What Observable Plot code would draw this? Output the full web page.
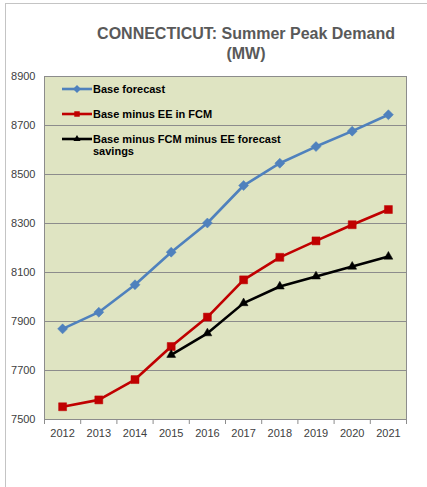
<!DOCTYPE html>
<html>
<head>
<meta charset="utf-8">
<script src="https://cdn.jsdelivr.net/npm/d3@7"></script>
<script src="https://cdn.jsdelivr.net/npm/@observablehq/plot@0.6"></script>
<style>
  html, body { margin: 0; padding: 0; background: #fff; }
  #chart { position: relative; width: 427px; height: 487px; overflow: hidden; font-family: "Liberation Sans", Arial, sans-serif; }
  #frame { position: absolute; left: 5px; top: 3px; width: 700px; height: 700px; border: 1.5px solid #c4c4c4; box-sizing: border-box; }
  #title { position: absolute; left: 65px; width: 362px; top: 24px; text-align: center; font-weight: bold; font-size: 16px; line-height: 20px; color: #595959; }
  #plotwrap { position: absolute; left: 0; top: 60px; }
  .leg { position: absolute; left: 62px; display: flex; align-items: flex-start; }
  .leg span { font-weight: bold; font-size: 11px; line-height: 12px; color: #000; width: 195px; margin-left: 1px; }
</style>
</head>
<body>
<div id="chart">
  <div id="frame"></div>
  <div id="title">CONNECTICUT: Summer Peak Demand<br>(MW)</div>
  <div id="plotwrap"></div>
</div>
<script>
const years = [2012, 2013, 2014, 2015, 2016, 2017, 2018, 2019, 2020, 2021];
const baseForecast = [7870, 7938, 8050, 8183, 8302, 8455, 8546, 8614, 8677, 8744];
const baseMinusEE = [7552, 7580, 7663, 7798, 7918, 8070, 8162, 8229, 8295, 8357];
const baseMinusFCM = [null, null, null, 7764, 7852, 7975, 8043, 8084, 8124, 8165];
const seriesNames = ["Base forecast", "Base minus EE in FCM", "Base minus FCM minus EE forecast savings"];
const seriesColors = ["#4f81bd", "#c00000", "#000000"];
const seriesSymbols = ["diamond2", "square", "triangle"];
const symbolRadius = [4.5, 4.5, 3.3];
const yTicks = [7500, 7700, 7900, 8100, 8300, 8500, 8700, 8900];
const xBoundaries = [2011.5, 2012.5, 2013.5, 2014.5, 2015.5, 2016.5, 2017.5, 2018.5, 2019.5, 2020.5, 2021.5];

const allValues = [baseForecast, baseMinusEE, baseMinusFCM];
const series = allValues.map((vals, i) =>
  years.map((year, j) => ({year, value: vals[j], name: seriesNames[i]})).filter(d => d.value != null)
);

const marks = [
  Plot.frame({fill: "#dfe4c2", stroke: "none"}),
  Plot.gridY(yTicks, {stroke: "#8c8c8c", strokeOpacity: 1, strokeWidth: 1}),
  Plot.frame({stroke: "#8c8c8c", strokeWidth: 1, fill: "none"}),
  Plot.axisY(yTicks, {tickSize: 0, tickPadding: 9, tickFormat: d => String(d), label: null, fontSize: 11, fill: "#404040"}),
  Plot.axisX(xBoundaries, {tickSize: 5, tickFormat: () => "", label: null, stroke: "#8c8c8c"}),
  Plot.axisX(years, {tickSize: 0, tickPadding: 10, tickFormat: d => String(d), label: null, fontSize: 11, fill: "#404040"})
];
series.forEach((data, i) => {
  marks.push(Plot.line(data, {x: "year", y: "value", stroke: seriesColors[i], strokeWidth: 2.6}));
  marks.push(Plot.dot(data, {x: "year", y: "value", symbol: seriesSymbols[i], r: symbolRadius[i], fill: seriesColors[i], stroke: seriesColors[i], strokeWidth: 0.5}));
});

const chart = Plot.plot({
  width: 427,
  height: 427,
  marginTop: 16,
  marginBottom: 68,
  marginLeft: 44,
  marginRight: 21,
  style: {fontFamily: "'Liberation Sans', Arial, sans-serif", fontSize: "11px", background: "transparent", color: "#404040"},
  x: {type: "linear", domain: [2011.5, 2021.5]},
  y: {domain: [7500, 8900]},
  marks
});
document.getElementById("plotwrap").appendChild(chart);

// Legend (HTML overlay inside plot area)
const legendTops = [83, 108, 133];
const chartEl = document.getElementById("chart");
seriesNames.forEach((name, i) => {
  const row = document.createElement("div");
  row.className = "leg";
  row.style.top = legendTops[i] + "px";
  const sym = d3.symbol(
    i === 0 ? d3.symbolDiamond2 : i === 1 ? d3.symbolSquare : d3.symbolTriangle,
    i === 2 ? 22 : i === 1 ? 30 : 40
  )();
  row.innerHTML =
    `<svg width="30" height="12" style="flex:none">
       <line x1="0" x2="30" y1="6" y2="6" stroke="${seriesColors[i]}" stroke-width="2.6"/>
       <path d="${sym}" transform="translate(15,6)" fill="${seriesColors[i]}"/>
     </svg><span>${name}</span>`;
  chartEl.appendChild(row);
});
</script>
</body>
</html>
